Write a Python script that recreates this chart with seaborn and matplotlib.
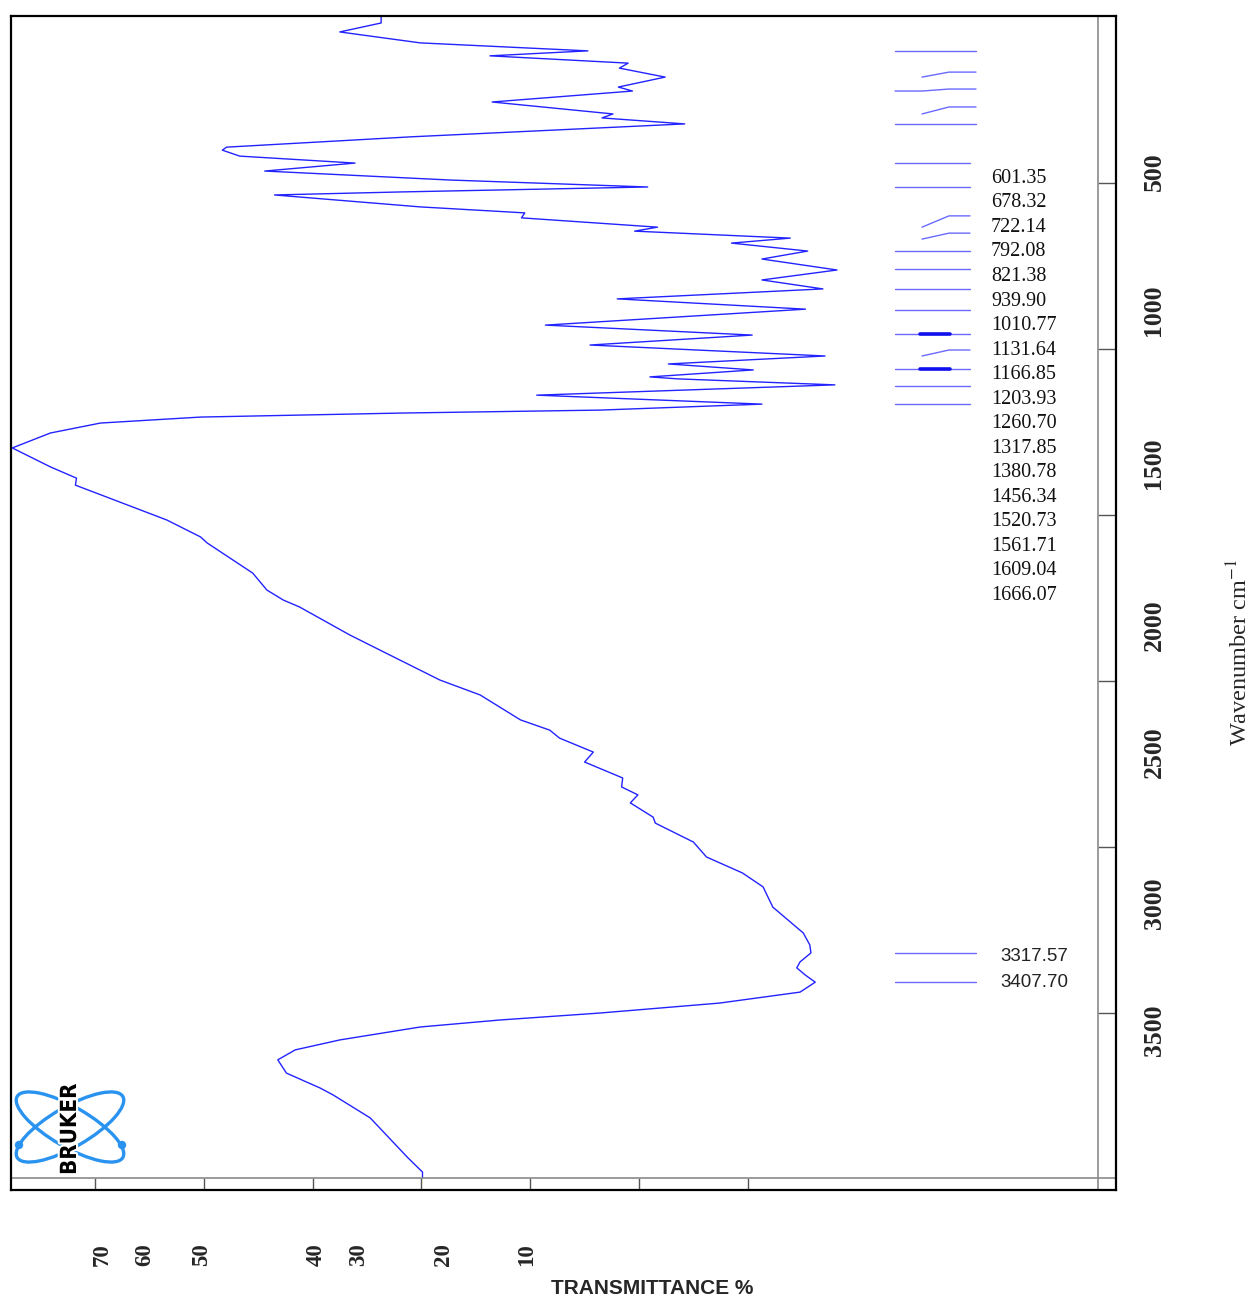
import matplotlib
matplotlib.use("Agg")
import matplotlib.pyplot as plt
import matplotlib.transforms as mtransforms
import matplotlib.patheffects as pe
from matplotlib.patches import Ellipse, Circle
import pandas as pd
import seaborn as sns

# IR spectrum (axis units as drawn on the frame)
wavenumber = [0, 18, 45, 78, 102, 117, 139, 154, 181, 211,
              223, 256, 292, 304, 322, 361, 392, 401, 419, 440, 464,
              491, 512, 527, 536, 572, 590, 605, 633, 645, 666,
              681, 705, 729, 762, 792, 819, 849, 880, 928, 958,
              988, 1021, 1045, 1063, 1084, 1090, 1108, 1139, 1166, 1184,
              1193, 1205, 1223, 1253, 1298, 1355, 1389, 1410, 1515, 1566,
              1584, 1636, 1675, 1726, 1756, 1777, 1861, 1907, 1997, 2042,
              2117, 2148, 2172, 2214, 2244, 2292, 2319, 2343, 2367, 2410,
              2428, 2485, 2530, 2578, 2620, 2681, 2759, 2795, 2819, 2846,
              2864, 2886, 2907, 2937, 2970, 3000, 3021, 3042, 3081, 3111,
              3141, 3181, 3226, 3247, 3316, 3434, 3479, 3497]
transmittance = [43.7, 43.7, 47.5, 40.1, 24.7, 33.7, 21.0, 21.8, 17.6, 21.9,
                 20.6, 33.5, 22.4, 23.4, 15.8, 41.0, 57.9, 58.3, 56.7, 46.1, 54.4,
                 37.4, 19.2, 42.0, 53.5, 40.1, 30.5, 30.8, 18.3, 20.4, 6.1,
                 11.5, 4.5, 8.7, 1.8, 8.7, 3.1, 22.0, 4.7, 28.6, 9.6,
                 24.5, 2.9, 17.3, 9.5, 19.0, 16.4, 2.0, 29.4, 8.7, 23.6,
                 42.0, 60.3, 69.5, 74.1, 77.6, 74.1, 71.7, 71.8, 63.4, 60.3,
                 59.7, 57.3, 55.5, 54.2, 52.7, 51.2, 46.6, 43.8, 38.3, 34.6,
                 30.9, 28.2, 27.3, 24.2, 25.0, 21.5, 21.6, 20.1, 20.8, 18.7,
                 18.5, 15.0, 13.8, 10.5, 8.6, 7.7, 4.9, 4.3, 4.2, 5.2,
                 5.5, 4.7, 3.8, 5.2, 12.6, 23.6, 32.8, 40.1, 47.5, 51.6,
                 53.2, 52.4, 49.3, 48.1, 44.7, 41.3, 39.9, 39.9]

# peak-pick sticks: where the stick leaves the peak, where it ends, long or short start
mark_peak = [102, 181, 223, 292, 322, 440, 512, 633, 669, 705,
             759, 819, 883, 955, 1021, 1060, 1111, 1166, 2819, 2907]
mark_end = [102, 166, 217, 271, 322, 440, 512, 599, 651, 705,
            759, 819, 883, 955, 1003, 1060, 1111, 1166, 2819, 2907]
mark_long = [True, False, True, False, True, True, True, False, False, True,
             True, True, True, True, False, True, True, True, True, True]
mark_bold = [955, 1060]

peak_labels = ["601.35", "678.32", "722.14", "792.08", "821.38", "939.90",
               "1010.77", "1131.64", "1166.85", "1203.93", "1260.70", "1317.85",
               "1380.78", "1456.34", "1520.73", "1561.71", "1609.04", "1666.07"]
oh_labels = ["3317.57", "3407.70"]
oh_label_pos = [2830, 2907]

wn_ticks = [500, 1000, 1500, 2000, 2500, 3000]
wn_labels = ["500", "1000", "1500", "2000", "2500", "3000", "3500"]
wn_label_pos = [467, 883, 1343, 1831, 2214, 2669, 3051]

tr_ticks = [70, 60, 50, 40, 30, 20, 10]
tr_labels = ["70", "60", "50", "40", "30", "20", "10"]
tr_label_pos = [69.3, 65.4, 60.2, 49.7, 45.8, 38.0, 30.3]

W, H = 1251, 1299
BLUE = "#2323ff"
STICK = "#6a6aff"


def fx(x):
    return x / W


def fy(y):
    return 1 - y / H


sns.set_style("white")
plt.rcParams["font.family"] = ["Liberation Serif", "DejaVu Serif"]
plt.rcParams["mathtext.fontset"] = "stix"

fig = plt.figure(figsize=(W / 100, H / 100), dpi=100)
ax = fig.add_axes([fx(11), fy(1190), fx(1116) - fx(11), fy(16) - fy(1190)])

df = pd.DataFrame({"wavenumber": wavenumber, "transmittance": transmittance})
sns.lineplot(data=df, x="transmittance", y="wavenumber", sort=False,
             estimator=None, color=BLUE, lw=1.0, ax=ax)

ax.set_xlim(77.72, -23.84)
ax.set_ylim(3533, -3)
ax.set_xlabel("")
ax.set_ylabel("")
ax.set_xticks(tr_ticks)
ax.set_yticks(wn_ticks)
ax.tick_params(axis="x", direction="in", length=8.6, width=1, color="#555555",
               bottom=True, top=False, labelbottom=False)
ax.tick_params(axis="y", direction="in", length=13, width=1, color="#555555",
               left=False, right=True, labelleft=False, labelright=False)
for sp in ax.spines.values():
    sp.set_color("black")
    sp.set_linewidth(1.6)
ax.axvline(-22.19, color="#8a8a8a", lw=1.2)
ax.axhline(3497, color="#8a8a8a", lw=1.2)

# peak sticks
x_start, x_knee, x_bend = -3.53, -6.01, -8.49
for wp, we, lng in zip(mark_peak, mark_end, mark_long):
    x_end = -10.97 if (wp < 330 or wp > 2000) else -10.42
    xs = [x_knee, x_bend, x_end]
    ys = [wp, we, we]
    if lng:
        xs = [x_start] + xs
        ys = [wp] + ys
    ax.plot(xs, ys, color=STICK, lw=1.0)
for wb in mark_bold:
    ax.plot([-5.83, -8.58], [wb, wb], color="#1010ee", lw=2.6)

# peak labels column
for i, lab in enumerate(peak_labels):
    ypix = 178.3 + i * 24.54
    fig.text(fx(991), fy(ypix), lab, ha="left", va="center",
             fontsize=14.5, color="#111111")
for lab, pos in zip(oh_labels, oh_label_pos):
    ax.text(-13.2, pos, lab, ha="left", va="center", fontsize=13.5,
            fontfamily="Liberation Sans", color="#222222")

# axis numbers
ytrans = mtransforms.blended_transform_factory(fig.transFigure, ax.transData)
for lab, pos in zip(wn_labels, wn_label_pos):
    ax.text(fx(1154), pos, lab, transform=ytrans, rotation=90, ha="center",
            va="center", fontsize=18.5, fontweight="bold", clip_on=False)
xtrans = mtransforms.blended_transform_factory(ax.transData, fig.transFigure)
for lab, pos in zip(tr_labels, tr_label_pos):
    ax.text(pos, fy(1255), lab, transform=xtrans, rotation=90, ha="center",
            va="center", fontsize=16.5, fontweight="bold", clip_on=False)

fig.text(fx(1240), fy(652), r"Wavenumber cm$^{-1}$", rotation=90,
         ha="center", va="center", fontsize=17.5)
fig.text(fx(652), fy(1288), "TRANSMITTANCE %", ha="center", va="center",
         fontsize=15, fontweight="bold", fontfamily="Liberation Sans")

# Bruker logo
lg = fig.add_axes([fx(12), fy(1180), fx(128) - fx(12), fy(1078) - fy(1180)])
lg.set_xlim(0, 116)
lg.set_ylim(102, 0)
lg.axis("off")
logo_blue = "#2a93f0"
for ang in (30, -30):
    lg.add_patch(Ellipse((58, 49), 122, 40, angle=ang, fill=False,
                         ec=logo_blue, lw=2.4))
for cx in (7, 110):
    lg.add_patch(Circle((cx, 67), 3.5, color=logo_blue))
lg.text(58, 51, "BRUKER", rotation=90, ha="center", va="center",
        fontsize=16, fontweight="bold", color="black",
        fontfamily="DejaVu Sans", fontstretch="condensed",
        path_effects=[pe.withStroke(linewidth=3, foreground="white")])

fig.savefig("out.png", dpi=100, facecolor="white")
